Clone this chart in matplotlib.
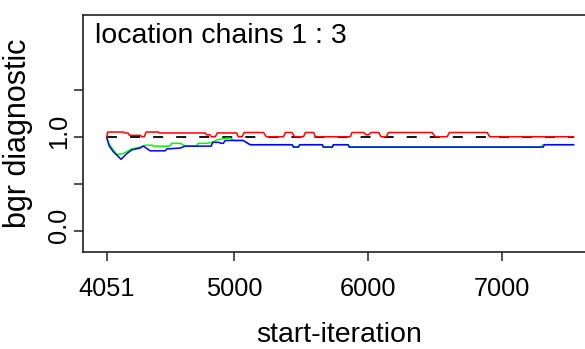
import matplotlib
matplotlib.use("Agg")
import matplotlib.pyplot as plt
import matplotlib.transforms as mtransforms

plt.rcParams['font.family'] = ['Liberation Sans', 'DejaVu Sans']
plt.rcParams['lines.scale_dashes'] = False

# bgr diagnostic (iteration, value) step points
red_iter = [4051, 4058, 4175, 4185, 4210, 4220, 4300, 4312, 4330, 4345, 4434, 4445,
            4785, 4795, 4820, 4830, 4860, 4875, 5020, 5031, 5060, 5075, 5220, 5240,
            5369, 5382, 5432, 5450, 5518, 5531, 5593, 5606, 5867, 5879, 5966, 5985,
            6000, 6020, 6078, 6095, 6135, 6150, 6476, 6500, 6588, 6605, 6887, 6905, 7530]
red_val = [1.00, 1.05, 1.05, 1.04, 1.04, 1.015, 1.015, 1.00, 1.00, 1.05, 1.05, 1.04,
           1.04, 1.02, 1.02, 1.00, 1.00, 1.04, 1.04, 1.00, 1.00, 1.045, 1.045, 1.00,
           1.00, 1.045, 1.045, 1.00, 1.00, 1.045, 1.045, 1.00, 1.00, 1.045, 1.045, 1.02,
           1.02, 1.045, 1.045, 1.00, 1.00, 1.045, 1.045, 1.00, 1.00, 1.045, 1.045, 1.00, 1.00]

blue_iter = [4051, 4070, 4100, 4158, 4200, 4237, 4300, 4324, 4345, 4374, 4486, 4500,
             4600, 4635, 4830, 4840, 4890, 4900, 4920, 4934, 5068, 5120, 5433, 5443,
             5480, 5490, 5658, 5665, 5733, 5740, 5850, 5858, 7305, 7312, 7530]
blue_val = [0.99, 0.90, 0.84, 0.76, 0.82, 0.86, 0.88, 0.90, 0.88, 0.85, 0.85, 0.87,
            0.88, 0.90, 0.90, 0.94, 0.94, 0.93, 0.93, 0.96, 0.96, 0.915, 0.915, 0.89,
            0.89, 0.915, 0.915, 0.89, 0.89, 0.915, 0.915, 0.89, 0.89, 0.915, 0.915]

green_iter = [4051, 4070, 4100, 4126, 4170, 4200, 4237, 4300, 4337, 4389, 4400, 4520,
              4536, 4600, 4635, 4720, 4733, 4800, 4835, 4880, 4950, 4970, 5000, 5068,
              5100, 5120, 5433, 5443, 5480, 5490, 5658, 5665, 5733, 5740, 5850, 5858,
              7290, 7300, 7530]
green_val = [0.99, 0.92, 0.86, 0.81, 0.82, 0.84, 0.87, 0.89, 0.91, 0.91, 0.90, 0.90,
             0.93, 0.93, 0.90, 0.90, 0.93, 0.93, 0.94, 0.97, 0.985, 0.985, 0.96, 0.96,
             0.93, 0.915, 0.915, 0.89, 0.89, 0.915, 0.915, 0.89, 0.89, 0.915, 0.915, 0.89,
             0.89, 0.915, 0.915]

ref_iter = [4051, 7530]
ref_val = [1.0, 1.0]

x_ticks = [4051, 5000, 6000, 7000]
y_ticks = [0.0, 0.5, 1.0, 1.5]
y_labels = ['0.0', '', '1.0', '']

fig = plt.figure(figsize=(5.85, 3.49), dpi=100)
ax = fig.add_axes([83 / 585, 1 - 251.5 / 349, 512 / 585, 236.5 / 349])

ax.plot(ref_iter, ref_val, color='black', lw=1.3, ls=(0, (7.2, 9.4)))
ax.plot(green_iter, green_val, color='#00ff00', lw=1.1)
ax.plot(blue_iter, blue_val, color='#0000ff', lw=1.1)
ax.plot(red_iter, red_val, color='#ff0000', lw=1.1)

ax.set_xlim(3874, 7690)
ax.set_ylim(-0.221, 2.295)
ax.set_xticks(x_ticks)
ax.set_xticklabels([str(t) for t in x_ticks])
ax.set_yticks(y_ticks)
ax.set_yticklabels(y_labels, rotation=90, va='center')

for s in ax.spines.values():
    s.set_linewidth(1.2)
    s.set_color('#222222')
ax.tick_params(axis='both', direction='out', length=6.5, width=1.1, colors='#222222',
               labelsize=18.3, labelcolor='black')
ax.tick_params(axis='x', pad=12)
ax.tick_params(axis='y', pad=2)

# y tick labels sit a little above their ticks in the reference
shift = mtransforms.ScaledTranslation(0, 4 / 72, fig.dpi_scale_trans)
for lab in ax.get_yticklabels():
    lab.set_transform(lab.get_transform() + shift)

ax.set_xlabel('start-iteration', fontsize=20.5, labelpad=15)
ax.set_ylabel('bgr diagnostic', fontsize=22, labelpad=10)
ax.text(0.0234, 0.965, 'location chains 1 : 3', transform=ax.transAxes,
        fontsize=20.5, ha='left', va='top')

fig.savefig('out.png', dpi=100)
